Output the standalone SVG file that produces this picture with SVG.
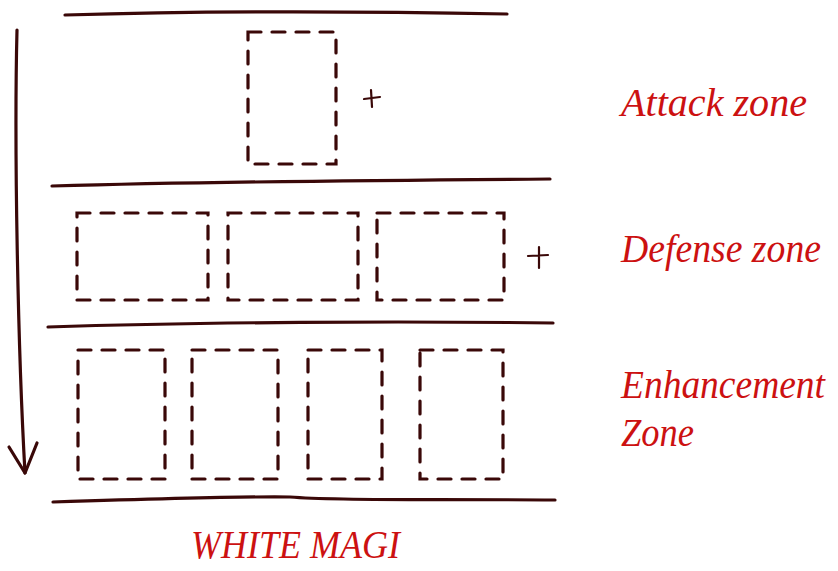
<svg xmlns="http://www.w3.org/2000/svg" width="838" height="571" viewBox="0 0 838 571">
<style>
.line{fill:none;stroke:#3a0808;stroke-width:3.2;stroke-linecap:round;stroke-linejoin:round}
.box{fill:none;stroke:#3a0808;stroke-width:3.2;stroke-linecap:round;stroke-dasharray:13 11}
.plus{fill:none;stroke:#3a0808;stroke-width:2.2;stroke-linecap:round}
.lbl{font-family:"Liberation Serif","DejaVu Serif",serif;font-style:italic;fill:#cc1111;font-size:40px}
</style>
<rect width="838" height="571" fill="#ffffff"/>
<g id="dividers">
<path class="line" d="M65,15 C200,11 350,11 507,14"/>
<path class="line" d="M52,186 C200,182 400,180 550,179"/>
<path class="line" d="M48,327 C200,322 400,321 553,323"/>
<path class="line" d="M53,502 C150,499 250,496 290,497 C340,501 420,499 555,500"/>
</g>
<g id="connectors">
<path class="line" d="M17,30 C14,150 18,350 25,473"/>
<path class="line" d="M9,447 L25,473 L37,443"/>
</g>
<g id="attack-zone">
<rect class="box" x="248" y="32" width="88" height="132"/>
<path class="plus" d="M364,99 L380,97 M371,90 L372,107"/>
<text class="lbl" x="621" y="116" textLength="186" lengthAdjust="spacingAndGlyphs">Attack zone</text>
</g>
<g id="defense-zone">
<rect class="box" x="77" y="213" width="131" height="87"/>
<rect class="box" x="228" y="213" width="130" height="87"/>
<rect class="box" x="377" y="213" width="127" height="87"/>
<path class="plus" d="M528,256 L548,255 M539,247 L539,268"/>
<text class="lbl" x="621" y="262" textLength="200" lengthAdjust="spacingAndGlyphs">Defense zone</text>
</g>
<g id="enhancement-zone">
<rect class="box" x="78" y="350" width="87" height="129"/>
<rect class="box" x="192" y="350" width="86" height="129"/>
<rect class="box" x="308" y="350" width="74" height="129"/>
<rect class="box" x="420" y="350" width="83" height="129"/>
<text class="lbl" x="621" y="398" textLength="204" lengthAdjust="spacingAndGlyphs">Enhancement</text>
<text class="lbl" x="621" y="446" textLength="73" lengthAdjust="spacingAndGlyphs">Zone</text>
</g>
<g id="title">
<text class="lbl" x="191" y="558" textLength="209" lengthAdjust="spacingAndGlyphs">WHITE MAGI</text>
</g>
</svg>
